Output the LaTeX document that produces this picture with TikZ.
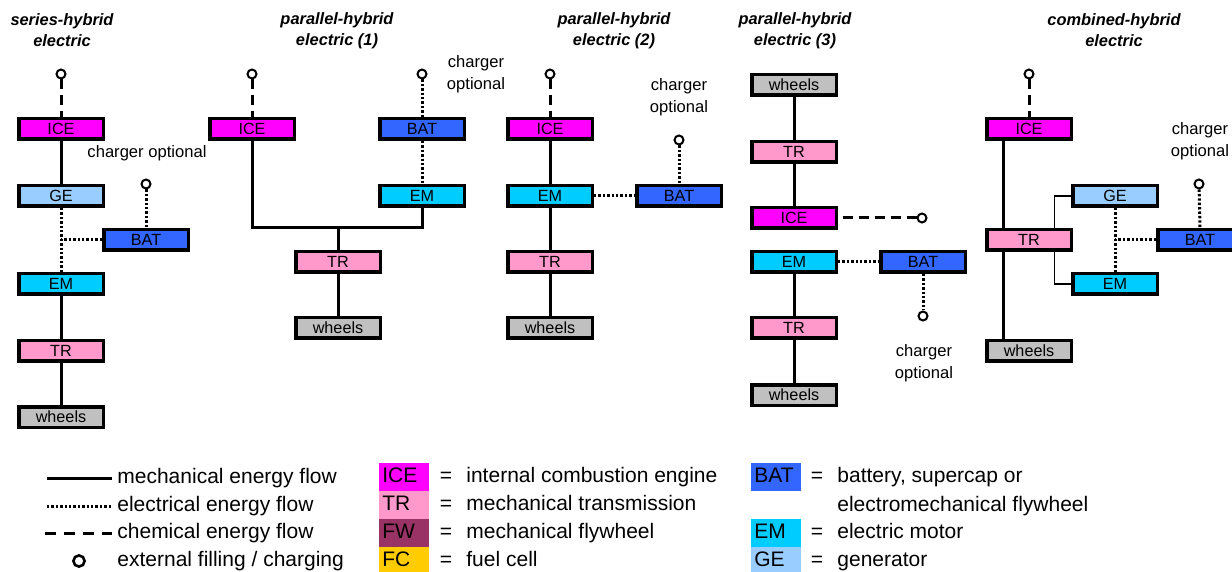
\documentclass[tikz,border=0pt]{standalone}
\usepackage{fontspec}
\setmainfont{Liberation Sans}
\usepackage{tikz}
\definecolor{ICEcol}{RGB}{255,0,255}
\definecolor{GEcol}{RGB}{153,204,255}
\definecolor{BATcol}{RGB}{51,102,255}
\definecolor{EMcol}{RGB}{0,204,255}
\definecolor{TRcol}{RGB}{255,153,204}
\definecolor{WHcol}{RGB}{192,192,192}
\definecolor{FWcol}{RGB}{153,51,102}
\definecolor{FCcol}{RGB}{255,204,0}
\begin{document}
\begin{tikzpicture}[x=0.5pt,y=-0.5pt,
  unit/.style={draw,fill=#1,line width=1.75pt,minimum width=42.25pt,
               minimum height=10.25pt,inner sep=0pt,font=\fontsize{8.1}{9.6}\selectfont},
  mech/.style={line width=1.5pt},
  thinmech/.style={line width=0.8pt},
  elec/.style={line width=1.5pt,dash pattern=on 1.2pt off 1pt},
  chem/.style={line width=1.5pt,dash pattern=on 5pt off 3pt},
  port/.style={circle,draw,line width=1pt,fill=white,inner sep=0pt,minimum size=4.5pt},
  title/.style={font=\fontsize{8.2}{10.5}\selectfont\bfseries\itshape,align=center},
  note/.style={font=\fontsize{8.3}{11}\selectfont,align=center},
  leg/.style={font=\fontsize{10.5}{14}\selectfont,anchor=west,inner sep=0pt,
              text height=7.6pt,text depth=2.2pt},
  swatch/.style={fill=#1,font=\fontsize{10.5}{12}\selectfont,anchor=west,text width=22pt,
                 inner xsep=1.5pt,inner ysep=0pt,minimum height=14pt,align=left,
                 text height=7.6pt,text depth=2.2pt},
]
\useasboundingbox (0,0) rectangle (1232,572);

\node[title] (sT) at (62,30.5) {series-hybrid\\electric};
\node[port] (sFill) at (61,74) {};
\node[unit=ICEcol] (sICE) at (61,129) {ICE};
\node[note] (sN) at (147,153) {charger optional};
\node[unit=GEcol] (sGE) at (61,196) {GE};
\node[port] (sChg) at (146,184) {};
\node[unit=BATcol] (sBAT) at (146,240) {BAT};
\node[unit=EMcol] (sEM) at (61,284) {EM};
\node[unit=TRcol] (sTR) at (61,351) {TR};
\node[unit=WHcol] (sW) at (61,417) {wheels};
\draw[chem] (sFill) -- (sICE.north);
\draw[mech] (sICE) -- (sGE);
\draw[elec] (sGE.south) -- (sEM.north);
\draw[elec] (sBAT.west) -- (sBAT.west -| sGE.south);
\draw[elec] (sChg) -- (sBAT.north);
\draw[mech] (sEM) -- (sTR);
\draw[mech] (sTR) -- (sW);

\node[title] (paT) at (337,30.5) {parallel-hybrid\\electric (1)};
\node[port] (paFill) at (252,74) {};
\node[unit=ICEcol] (paICE) at (252,129) {ICE};
\node[port] (paChg) at (422,74) {};
\node[note] (paN) at (476,74) {charger\\optional};
\node[unit=BATcol] (paBAT) at (422,129) {BAT};
\node[unit=EMcol] (paEM) at (422,196) {EM};
\coordinate (paJ) at (338,228);
\node[unit=TRcol] (paTR) at (338,262) {TR};
\node[unit=WHcol] (paW) at (338,328) {wheels};
\draw[chem] (paFill) -- (paICE.north);
\draw[elec] (paChg) -- (paBAT.north);
\draw[elec] (paBAT) -- (paEM);
\draw[mech] (paICE.south) |- (paJ) -| (paEM.south);
\draw[mech] (paJ) -- (paTR.north);
\draw[mech] (paTR) -- (paW);

\node[title] (pbT) at (614,30.5) {parallel-hybrid\\electric (2)};
\node[port] (pbFill) at (550,74) {};
\node[unit=ICEcol] (pbICE) at (550,129) {ICE};
\node[note] (pbN) at (679,97) {charger\\optional};
\node[port] (pbChg) at (679,140) {};
\node[unit=EMcol] (pbEM) at (550,196) {EM};
\node[unit=BATcol] (pbBAT) at (679,196) {BAT};
\node[unit=TRcol] (pbTR) at (550,262) {TR};
\node[unit=WHcol] (pbW) at (550,328) {wheels};
\draw[chem] (pbFill) -- (pbICE.north);
\draw[mech] (pbICE) -- (pbEM);
\draw[elec] (pbEM) -- (pbBAT);
\draw[elec] (pbChg) -- (pbBAT.north);
\draw[mech] (pbEM) -- (pbTR);
\draw[mech] (pbTR) -- (pbW);

\node[title] (pcT) at (795,30.5) {parallel-hybrid\\electric (3)};
\node[unit=WHcol] (pcW) at (794,85) {wheels};
\node[unit=TRcol] (pcTR) at (794,152) {TR};
\node[unit=ICEcol] (pcICE) at (794,218) {ICE};
\node[port] (pcFill) at (922,218) {};
\node[unit=EMcol] (pcEM) at (794,262) {EM};
\node[unit=BATcol] (pcBAT) at (923,262) {BAT};
\node[port] (pcChg) at (923,316) {};
\node[note] (pcN) at (924,363) {charger\\optional};
\node[unit=TRcol] (pcTRb) at (794,328) {TR};
\node[unit=WHcol] (pcWb) at (794,395) {wheels};
\draw[mech] (pcW) -- (pcTR);
\draw[mech] (pcTR) -- (pcICE);
\draw[chem] ([xshift=2.5pt]pcICE.east) -- (pcFill);
\draw[elec] (pcEM) -- (pcBAT);
\draw[elec] (pcBAT.south) -- (pcChg);
\draw[mech] (pcEM) -- (pcTRb);
\draw[mech] (pcTRb) -- (pcWb);

\node[title] (cT) at (1114,30.5) {combined-hybrid\\electric};
\node[port] (cFill) at (1029,74) {};
\node[unit=ICEcol] (cICE) at (1029,129) {ICE};
\node[note] (cN) at (1200,141) {charger\\optional};
\node[port] (cChg) at (1199,184) {};
\node[unit=GEcol] (cGE) at (1115,196) {GE};
\node[unit=TRcol] (cTR) at (1029,240) {TR};
\node[unit=BATcol] (cBAT) at (1200,240) {BAT};
\node[unit=EMcol] (cEM) at (1115,284) {EM};
\node[unit=WHcol] (cW) at (1029,351) {wheels};
\draw[chem] (cFill) -- (cICE.north);
\draw[mech] ([xshift=-12.75pt]cICE.south) -- ([xshift=-12.75pt]cTR.north);
\draw[mech] ([xshift=-12.75pt]cTR.south) -- ([xshift=-12.75pt]cW.north);
\draw[thinmech] ([xshift=12.75pt]cTR.north) |- (cGE.west);
\draw[thinmech] ([xshift=12.75pt]cTR.south) |- (cEM.west);
\draw[elec] (cGE.south) -- (cEM.north);
\draw[elec] (cBAT.west) -- (cBAT.west -| cGE.south);
\draw[elec] (cChg) -- (cBAT.north);

\node[leg] (lMech) at (117,478) {mechanical energy flow};
\node[leg] (lElec) at (117,506) {electrical energy flow};
\node[leg] (lChem) at (117,533) {chemical energy flow};
\node[leg] (lFill) at (117,561) {external filling / charging};
\coordinate (lA) at (47,478);
\coordinate (lB) at (47,506);
\coordinate (lC) at (45,533);
\draw[mech] (lA) -- ([xshift=-2.5pt]lMech.west);
\draw[elec] (lB) -- ([xshift=-2.5pt]lElec.west);
\draw[chem,dash pattern=on 5.5pt off 4pt] (lC) -- ([xshift=-2.5pt]lChem.west);
\node[port,line width=1.3pt,minimum size=5.6pt] (lPort) at (79,561) {};

\node[swatch=ICEcol] (kICE) at (379,477) {ICE};
\node[swatch=TRcol] (kTR) at (379,505) {TR};
\node[swatch=FWcol] (kFW) at (379,533) {FW};
\node[swatch=FCcol] (kFC) at (379,561) {FC};
\foreach \y/\txt in {477/internal combustion engine,505/mechanical transmission,
                     533/mechanical flywheel,561/fuel cell}{
  \node[leg,anchor=center] at (446,\y) {=};
  \node[leg] at (466,\y) {\txt};
}
\node[swatch=BATcol] (kBAT) at (751,477) {BAT};
\node[swatch=EMcol] (kEM) at (751,533) {EM};
\node[swatch=GEcol] (kGE) at (751,561) {GE};
\foreach \y/\txt in {477/{battery, supercap or},533/electric motor,561/generator}{
  \node[leg,anchor=center] at (817,\y) {=};
  \node[leg] at (837,\y) {\txt};
}
\node[leg] (kBATb) at (837,506) {electromechanical flywheel};
\end{tikzpicture}
\end{document}
